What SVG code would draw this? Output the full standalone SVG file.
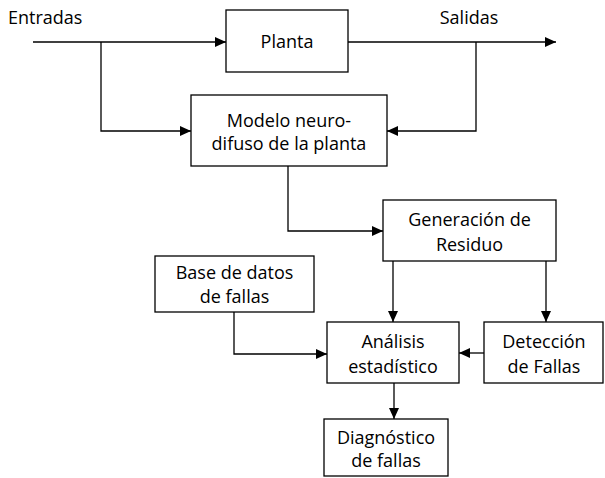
<svg xmlns="http://www.w3.org/2000/svg" width="605" height="478" viewBox="0 0 605 478">
<style>
.box{fill:#fff;stroke:#000;stroke-width:1.3}
.ln{fill:none;stroke:#000;stroke-width:1.3}
text{font-family:"Open Sans","Liberation Sans",sans-serif;font-size:18px;fill:#000;text-anchor:middle}
</style>
<defs>
<marker id="ah" markerUnits="userSpaceOnUse" markerWidth="11" markerHeight="10" refX="11" refY="5" orient="auto">
<path d="M0,0 L11,5 L0,10 z" fill="#000"/>
</marker>
</defs>
<rect width="605" height="478" fill="#fff"/>
<g id="connectors">
<path class="ln" d="M33,42 H226" marker-end="url(#ah)"/>
<path class="ln" d="M101,42 V131 H191" marker-end="url(#ah)"/>
<path class="ln" d="M348,42 H556" marker-end="url(#ah)"/>
<path class="ln" d="M476,42 V131 H387" marker-end="url(#ah)"/>
<path class="ln" d="M288,166 V231 H383" marker-end="url(#ah)"/>
<path class="ln" d="M393,261 V322" marker-end="url(#ah)"/>
<path class="ln" d="M546,261 V322" marker-end="url(#ah)"/>
<path class="ln" d="M484,353 H459" marker-end="url(#ah)"/>
<path class="ln" d="M234,312 V354 H327" marker-end="url(#ah)"/>
<path class="ln" d="M394,383 V419" marker-end="url(#ah)"/>
</g>
<g id="labels">
<text x="8" y="24" style="text-anchor:start">Entradas</text>
<text x="469" y="24">Salidas</text>
</g>
<g id="planta">
<rect class="box" x="226" y="10" width="122" height="62"/>
<text x="287" y="48">Planta</text>
</g>
<g id="modelo">
<rect class="box" x="191" y="95" width="196" height="71"/>
<text x="289" y="127">Modelo neuro-</text>
<text x="289" y="150">difuso de la planta</text>
</g>
<g id="generacion">
<rect class="box" x="383" y="200" width="173" height="61"/>
<text x="469.5" y="226">Generación de</text>
<text x="469.5" y="251">Residuo</text>
</g>
<g id="base">
<rect class="box" x="155" y="256" width="159" height="56"/>
<text x="234.5" y="279">Base de datos</text>
<text x="234.5" y="303">de fallas</text>
</g>
<g id="analisis">
<rect class="box" x="327" y="322" width="132" height="61"/>
<text x="393" y="348">Análisis</text>
<text x="393" y="373">estadístico</text>
</g>
<g id="deteccion">
<rect class="box" x="484" y="322" width="119" height="61"/>
<text x="544" y="348">Detección</text>
<text x="544" y="373">de Fallas</text>
</g>
<g id="diagnostico">
<rect class="box" x="324" y="419" width="124" height="57"/>
<text x="386" y="444">Diagnóstico</text>
<text x="386" y="467">de fallas</text>
</g>
</svg>
